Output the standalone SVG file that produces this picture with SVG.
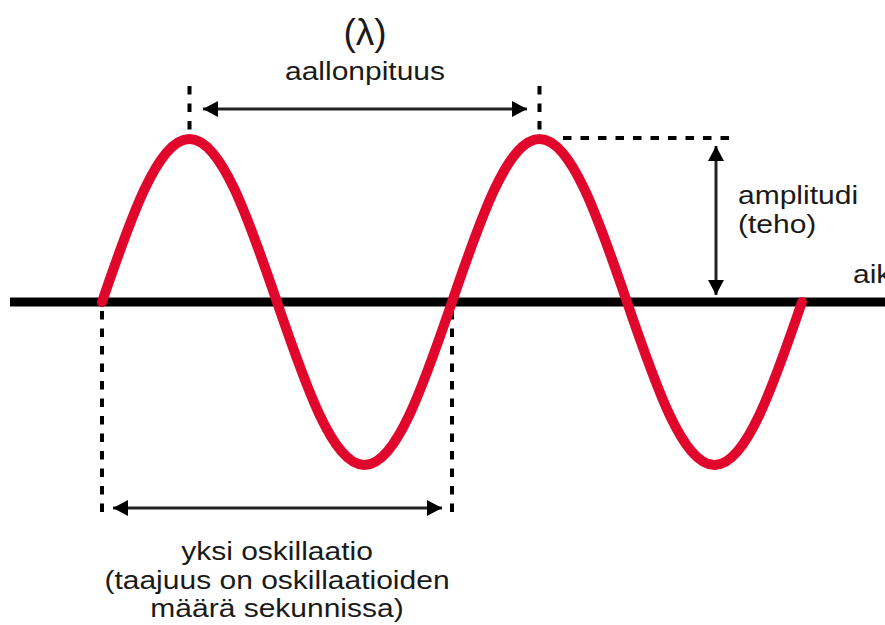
<svg xmlns="http://www.w3.org/2000/svg" width="885" height="625" viewBox="0 0 885 625">
  <style>
    .t { font-family: "Liberation Sans", Arial, sans-serif; font-size: 25px; fill: #1a1a1a; }
    .mid { text-anchor: middle; }
    .dash { stroke: #000; stroke-width: 4; stroke-dasharray: 8.5 9; fill: none; }
    .arrow { stroke: #222; stroke-width: 3; fill: none; marker-start: url(#head); marker-end: url(#head); }
    .wave { fill: none; stroke: #e1062c; stroke-width: 10; stroke-linecap: round; stroke-linejoin: round; }
  </style>
  <defs>
    <marker id="head" markerUnits="userSpaceOnUse" viewBox="0 0 16 18" refX="15" refY="9" markerWidth="16" markerHeight="18" orient="auto-start-reverse">
      <path d="M0,1 L15,9 L0,17 Z" fill="#000"/>
    </marker>
  </defs>
  <rect width="885" height="625" fill="#fff"/>

  <g id="axis">
    <line x1="10" y1="302" x2="885" y2="302" stroke="#000" stroke-width="9"/>
  </g>

  <g id="connectors">
    <line class="dash" x1="189.5" y1="86" x2="189.5" y2="132"/>
    <line class="dash" x1="539.5" y1="86" x2="539.5" y2="132"/>
    <line class="arrow" x1="203" y1="109" x2="527" y2="109"/>
    <line class="dash" x1="563" y1="138" x2="737" y2="138"/>
    <line class="arrow" x1="716" y1="146" x2="716" y2="295"/>
    <line class="dash" x1="102" y1="311" x2="102" y2="515"/>
    <line class="dash" x1="452" y1="311" x2="452" y2="515"/>
    <line class="arrow" x1="113" y1="508" x2="442" y2="508"/>
  </g>

  <g id="wave">
    <path class="wave" d="M102,302 C130.53,218.5 157.83,139 189.5,139 C221.17,139 248.47,218.5 277,302 C305.53,385.5 332.83,465 364.5,465 C396.17,465 423.47,385.5 452,302 C480.53,218.5 507.83,139 539.5,139 C571.17,139 598.47,218.5 627,302 C655.53,385.5 682.83,465 714.5,465 C746.17,465 773.47,385.5 802,302"/>
  </g>

  <g id="wavelength-label">
    <text class="t mid" x="365" y="45" style="font-size:37px">(λ)</text>
    <text class="t mid" transform="translate(365,80) scale(1.2,1)">aallonpituus</text>
  </g>

  <g id="amplitude-label">
    <text class="t" transform="translate(738,204) scale(1.2,1)">amplitudi</text>
    <text class="t" transform="translate(738,233) scale(1.2,1)">(teho)</text>
  </g>

  <g id="time-label">
    <text class="t" transform="translate(853,283) scale(1.2,1)">aik</text>
  </g>

  <g id="oscillation-label">
    <text class="t mid" transform="translate(277,560) scale(1.2,1)">yksi oskillaatio</text>
    <text class="t mid" transform="translate(277,589) scale(1.2,1)">(taajuus on oskillaatioiden</text>
    <text class="t mid" transform="translate(277,617) scale(1.2,1)">määrä sekunnissa)</text>
  </g>
</svg>
